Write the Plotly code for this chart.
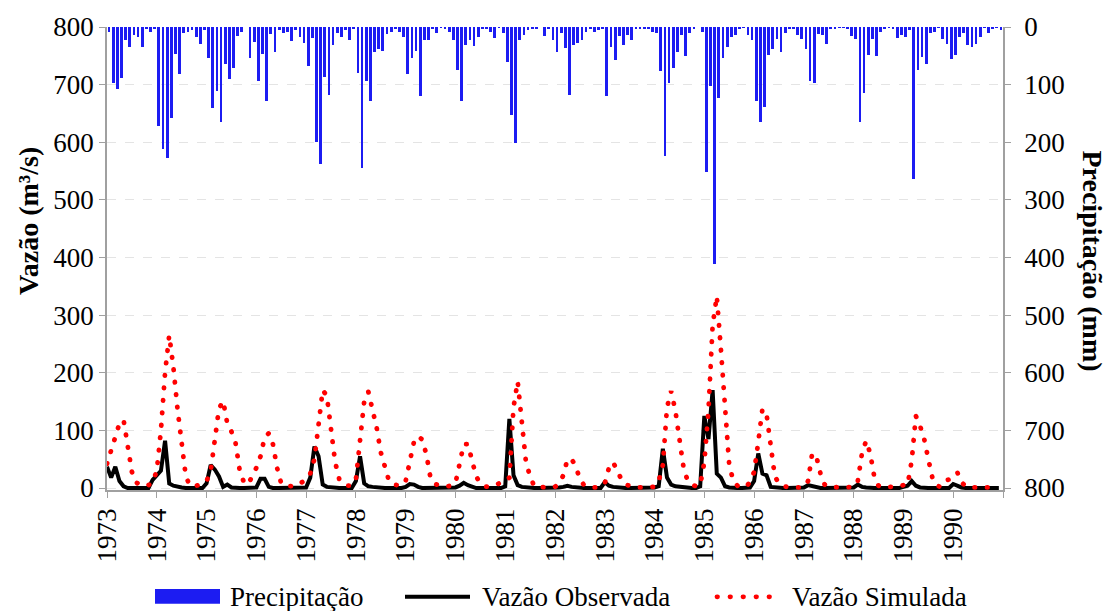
import plotly.graph_objects as go

# ---------------- data (monthly, Jan 1973 - Dec 1990) ----------------
years = list(range(1973, 1991))

precip = [  # Precipitação (mm)
    8, 97, 108, 88, 23, 34, 14, 18, 35, 2, 8, 4,          # 1973
    171, 212, 228, 158, 46, 81, 10, 8, 5, 18, 30, 5,      # 1974
    54, 141, 111, 164, 65, 90, 72, 15, 8, 0, 54, 26,      # 1975
    94, 46, 128, 13, 44, 5, 11, 8, 25, 5, 18, 28,         # 1976
    67, 19, 199, 238, 87, 118, 31, 10, 18, 5, 22, 2,      # 1977
    80, 244, 94, 128, 43, 38, 41, 12, 9, 4, 8, 17,        # 1978
    81, 54, 42, 120, 23, 23, 2, 10, 1, 4, 8, 23,          # 1979
    74, 128, 31, 23, 33, 17, 2, 2, 8, 19, 1, 10,          # 1980
    60, 152, 201, 23, 14, 6, 2, 2, 0, 15, 2, 22,          # 1981
    43, 11, 36, 118, 31, 28, 22, 8, 2, 8, 5, 2,           # 1982
    119, 34, 58, 15, 32, 14, 22, 2, 2, 2, 4, 8,           # 1983
    10, 77, 223, 98, 72, 44, 14, 51, 10, 2, 0, 8,         # 1984
    252, 102, 412, 124, 53, 34, 18, 14, 2, 1, 14, 22,     # 1985
    129, 165, 138, 48, 38, 21, 44, 10, 2, 4, 14, 21,      # 1986
    38, 93, 97, 12, 14, 29, 4, 2, 1, 1, 2, 15,            # 1987
    21, 164, 114, 49, 21, 50, 8, 4, 1, 2, 19, 14,         # 1988
    17, 5, 264, 74, 52, 65, 11, 8, 1, 21, 29, 55,         # 1989
    49, 18, 11, 32, 34, 29, 18, 1, 11, 2, 1, 5,           # 1990
]

q_obs = [  # Vazão Observada (m³/s)
    37, 18, 37, 12, 3, 0, 0, 0, 0, 0, 0, 14,
    23, 30, 82, 8, 4, 2, 1, 0, 0, 0, 0, 0,
    8, 40, 32, 20, 2, 6, 1, 0, 0, 0, 0, 0,
    1, 16, 16, 2, 0, 0, 0, 0, 0, 0, 0, 0,
    1, 18, 72, 55, 6, 2, 1, 0, 0, 0, 0, 0,
    12, 55, 8, 3, 2, 1, 0, 0, 0, 0, 0, 0,
    2, 7, 6, 2, 0, 0, 0, 0, 0, 0, 0, 0,
    1, 4, 9, 5, 2, 0, 0, 0, 0, 0, 0, 0,
    3, 120, 22, 5, 2, 1, 0, 0, 0, 0, 0, 0,
    0, 1, 2, 4, 2, 1, 0, 0, 0, 0, 0, 0,
    10, 4, 2, 1, 0, 0, 0, 0, 0, 0, 0, 0,
    1, 3, 68, 18, 6, 3, 2, 1, 0, 0, 0, 3,
    125, 85, 170, 25, 18, 3, 1, 0, 0, 0, 0, 1,
    12, 60, 25, 22, 2, 1, 0, 0, 0, 0, 0, 0,
    1, 5, 3, 1, 0, 0, 0, 0, 0, 0, 0, 0,
    1, 6, 2, 1, 0, 0, 0, 0, 0, 0, 0, 0,
    2, 4, 12, 4, 1, 0, 0, 0, 0, 0, 0, 0,
    7, 3, 1, 0, 0, 0, 0, 0, 0, 0, 0, 0,
]

q_sim = [  # Vazão Simulada (m³/s)
    42, 65, 88, 112, 118, 78, 28, 10, 5, 4, 5, 10,
    30, 100, 200, 265, 210, 137, 70, 20, 4, 3, 5, 9,
    12, 30, 80, 138, 151, 112, 98, 78, 30, 10, 6, 20,
    35, 55, 88, 95, 76, 35, 8, 4, 3, 3, 5, 10,
    15, 25, 50, 110, 170, 160, 98, 45, 15, 7, 4, 4,
    15, 80, 150, 167, 140, 105, 62, 33, 12, 6, 4, 4,
    12, 45, 80, 90, 84, 58, 17, 7, 4, 3, 3, 4,
    8, 38, 76, 76, 45, 20, 8, 3, 2, 3, 6, 10,
    12, 18, 140, 185, 120, 45, 20, 3, 2, 1, 1, 2,
    2, 8, 22, 50, 50, 38, 15, 5, 2, 1, 1, 3,
    8, 35, 45, 30, 15, 6, 3, 2, 1, 1, 1, 1,
    2, 12, 40, 140, 168, 135, 78, 35, 12, 6, 3, 5,
    45, 135, 282, 333, 240, 124, 40, 12, 4, 2, 2, 10,
    28, 80, 137, 128, 65, 20, 8, 3, 2, 1, 1, 1,
    2, 12, 60, 55, 25, 6, 2, 1, 1, 1, 1, 1,
    2, 12, 60, 82, 60, 18, 4, 1, 1, 1, 2, 3,
    5, 5, 48, 125, 108, 85, 50, 17, 4, 2, 12, 15,
    22, 27, 10, 3, 1, 1, 1, 1, 1, 1, 1, 1,
]

y_ticks = list(range(0, 801, 100))
series_names = ["Precipitação", "Vazão Observada", "Vazão Simulada"]

# ---------------- figure ----------------
n = len(precip)
t_line = [years[0] + i / 12 for i in range(n)]
t_bar = [years[0] + (i + 0.5) / 12 for i in range(n)]

FONT = "Liberation Serif"
AX = "#a0a0a0"
BLUE = "#1c1cf2"
RED = "#ff0000"
FS = 27

fig = go.Figure()
fig.add_trace(go.Bar(x=t_bar, y=precip, yaxis="y2", name=series_names[0],
                     marker=dict(color=BLUE, line=dict(width=0)),
                     width=0.66 / 12, showlegend=False))
fig.add_trace(go.Scatter(x=t_line, y=q_obs, mode="lines", name=series_names[1],
                         line=dict(color="black", width=4), showlegend=False))
fig.add_trace(go.Scatter(x=t_line, y=q_sim, mode="lines", name=series_names[2],
                         line=dict(color=RED, width=4.8, dash="0.5px,12px"),
                         showlegend=False))

W, H = 1111, 611
ml, mr, mt, mb = 107, 108, 22, 121
ph = H - mt - mb
units_per_px = 800 / 466.0
ymin = -(ph - 466) * units_per_px

tick_font = dict(family=FONT, size=FS, color="black")

fig.update_layout(
    width=W, height=H,
    margin=dict(l=ml, r=mr, t=mt, b=mb, pad=0),
    paper_bgcolor="white", plot_bgcolor="white",
    bargap=0,
    xaxis=dict(range=[years[0], years[-1] + 1],
               tickvals=years + [years[-1] + 1],
               ticktext=[str(y) for y in years] + [""],
               tickangle=-90, ticks="outside", ticklen=6, tickcolor=AX,
               showline=True, linecolor=AX, linewidth=1.5,
               showgrid=False, zeroline=False, tickfont=tick_font),
    yaxis=dict(range=[ymin, 800], tickvals=y_ticks,
               ticks="outside", ticklen=6, tickcolor=AX,
               showline=True, linecolor=AX, linewidth=1.5,
               showgrid=True, gridcolor="#e4e4e4", griddash="dash", gridwidth=1,
               zeroline=False, tickfont=tick_font),
    yaxis2=dict(range=[800 - ymin, 0], tickvals=y_ticks, overlaying="y", side="right",
                ticks="outside", ticklen=6, tickcolor=AX, ticklabelstandoff=8,
                showline=True, linecolor=AX, linewidth=1.5,
                showgrid=False, zeroline=False, tickfont=tick_font),
)

def px_x(p):
    return (p - ml) / (W - ml - mr)

def px_y(p):
    return (H - mb - p) / ph

title_font = dict(family=FONT, size=28, color="black")
fig.add_annotation(text="<b>Vazão (m³/s)</b>", xref="paper", yref="paper",
                   x=px_x(29), y=px_y(218), textangle=-90, showarrow=False,
                   font=title_font, xanchor="center", yanchor="middle")
fig.add_annotation(text="<b>Precipitação (mm)</b>", xref="paper", yref="paper",
                   x=px_x(1093), y=px_y(258), textangle=90, showarrow=False,
                   font=title_font, xanchor="center", yanchor="middle")

# custom legend
ly = 598
fig.add_shape(type="rect", xref="paper", yref="paper",
              x0=px_x(155), x1=px_x(220), y0=px_y(605), y1=px_y(590),
              fillcolor=BLUE, line=dict(width=0))
fig.add_shape(type="line", xref="paper", yref="paper",
              x0=px_x(405), x1=px_x(470), y0=px_y(ly), y1=px_y(ly),
              line=dict(color="black", width=4))
fig.add_shape(type="line", xref="paper", yref="paper",
              x0=px_x(717), x1=px_x(782), y0=px_y(ly), y1=px_y(ly),
              line=dict(color=RED, width=4.8, dash="0.5px,12.5px"))
for name, xl in zip(series_names, [228, 480, 790]):
    fig.add_annotation(text=name, xref="paper", yref="paper", x=px_x(xl), y=px_y(ly),
                       xanchor="left", yanchor="middle", showarrow=False,
                       font=dict(family=FONT, size=FS, color="black"))

post = """
document.body.style.margin='0';
document.querySelectorAll('path').forEach(function(p){
  var s = p.style.stroke || '';
  if (s.indexOf('255, 0, 0') >= 0) { p.style.strokeLinecap = 'round'; }
});
"""
fig.write_html("out.html", post_script=post, config={"displayModeBar": False})
